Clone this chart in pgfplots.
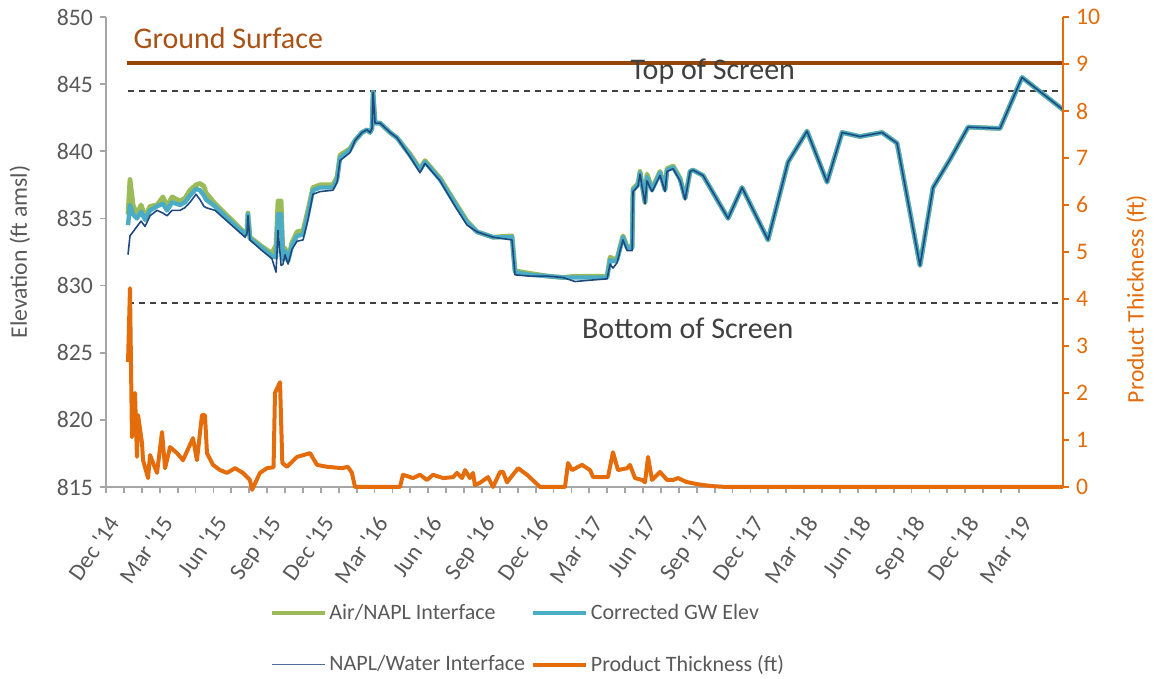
\documentclass[border=0pt]{standalone}
\usepackage{fontspec}
\setmainfont{Carlito}
\usepackage{pgfplots}
\pgfplotsset{compat=1.18}

\definecolor{airgreen}{RGB}{155,187,89}
\definecolor{gwblue}{RGB}{75,172,198}
\definecolor{napldark}{RGB}{31,73,125}
\definecolor{prodorange}{RGB}{228,108,10}
\definecolor{groundbrown}{RGB}{150,70,8}
\definecolor{groundtxt}{RGB}{170,82,22}
\definecolor{txtgray}{RGB}{89,89,89}
\definecolor{axgray}{RGB}{166,166,166}

\newcommand{\tf}{\fontsize{11.85}{14}\selectfont}
\newcommand{\lf}{\fontsize{11}{13}\selectfont}

\pgfplotsset{
  common/.style={
    width=478.5pt, height=235pt, scale only axis,
    xmin=0, xmax=53.46,
    tick align=outside,
    major tick length=3pt, minor tick length=3pt,
    /pgf/number format/assume math mode=true,
    /pgf/number format/1000 sep={},
  },
}

\begin{document}
\begin{tikzpicture}
\useasboundingbox (-53pt,-96pt) rectangle (525pt,243.5pt);

\begin{axis}[
    common,
    axis x line*=bottom, axis y line*=left,
    x axis line style={-, draw=axgray, line width=0.9pt},
    y axis line style={-, draw=axgray, line width=0.9pt},
    tick style={axgray, line width=0.9pt},
    ymin=815, ymax=850,
    ytick={815,820,...,850},
    xtick={0,3,...,51},
    minor x tick num=2,
    xticklabels={Dec \textquotesingle14, Mar \textquotesingle15, Jun \textquotesingle15, Sep \textquotesingle15,
      Dec \textquotesingle15, Mar \textquotesingle16, Jun \textquotesingle16, Sep \textquotesingle16,
      Dec \textquotesingle16, Mar \textquotesingle17, Jun \textquotesingle17, Sep \textquotesingle17,
      Dec \textquotesingle17, Mar \textquotesingle18, Jun \textquotesingle18, Sep \textquotesingle18,
      Dec \textquotesingle18, Mar \textquotesingle19},
    xticklabel shift=6pt,
    x tick label style={rotate=55, anchor=north east, text=txtgray, font=\tf},
    y tick label style={text=txtgray, font=\tf},
    ylabel={Elevation (ft amsl)},
    ylabel style={text=txtgray, font=\tf, at={(axis description cs:-0.09,0.5)}, anchor=center},
]
% ground surface and screen interval
\addplot[groundbrown, line width=2pt] coordinates {(1.17,846.6) (53.46,846.6)};
\addplot[black!75, line width=0.8pt, dash pattern=on 3pt off 2.5pt] coordinates {(1.23,844.5) (53.3,844.5)};
\addplot[black!75, line width=0.8pt, dash pattern=on 3pt off 2.5pt] coordinates {(1.23,828.7) (53.3,828.7)};

% Air/NAPL interface
\addplot[airgreen, line width=2.4pt, line join=round] coordinates {
(1.23,835.3)(1.34,837.9)(1.51,836.0)(1.73,835.3)(1.96,836.0)(2.18,835.1)(2.46,835.9)(2.85,836.0)
(3.18,836.6)(3.41,835.9)(3.69,836.6)(4.13,836.3)(4.41,836.5)(4.69,837.1)(5.03,837.5)(5.25,837.6)
(5.47,837.4)(5.59,836.9)(6.09,836.1)(6.93,835.0)(7.77,833.9)(7.88,834.1)(7.93,835.4)(8.04,833.6)
(8.72,832.9)(9.27,832.4)(9.50,833.0)(9.61,836.3)(9.78,836.3)(9.89,832.1)(10.00,832.8)(10.17,832.0)
(10.39,833.2)(10.67,834.0)(11.01,834.1)(11.28,835.6)(11.56,837.3)(11.96,837.5)(12.68,837.5)(12.91,838.1)
(13.07,839.7)(13.63,840.2)(13.91,840.8)(14.30,841.4)(14.58,841.6)(14.75,841.4)(14.86,841.7)(14.92,844.4)
(15.03,842.1)(15.31,842.1)(15.87,841.4)(16.26,841.0)(16.98,839.8)(17.54,838.7)(17.82,839.3)(18.66,838.0)
(19.50,836.2)(20.17,834.8)(20.73,834.0)(21.62,833.6)(22.68,833.7)(22.85,831.1)(23.69,830.9)(24.69,830.7)
(25.53,830.6)(26.20,830.7)(27.04,830.7)(27.99,830.7)(28.16,832.1)(28.32,832.0)(28.55,832.0)(28.72,832.9)
(28.88,833.7)(29.11,832.9)(29.39,832.9)(29.44,837.2)(29.72,837.6)(29.83,838.5)(30.11,836.2)(30.22,838.3)
(30.50,837.2)(30.95,838.5)(31.23,837.2)(31.34,838.7)(31.68,838.9)(32.07,838.0)(32.35,836.5)(32.63,838.5)
(32.79,838.6)(33.35,838.2)(34.75,835.0)(35.53,837.3)(36.98,833.4)(38.10,839.2)(39.16,841.5)(40.28,837.7)
(41.12,841.4)(42.12,841.1)(43.35,841.4)(44.19,840.6)(45.47,831.5)(46.20,837.3)(47.15,839.4)(48.16,841.8)
(49.94,841.7)(51.17,845.5)(53.46,843.1)
};

% Corrected GW elevation
\addplot[gwblue, line width=2.2pt, line join=round] coordinates {
(1.23,834.5)(1.34,836.0)(1.51,835.3)(1.73,835.0)(1.96,835.5)(2.18,834.9)(2.46,835.6)(2.85,835.9)
(3.18,836.1)(3.41,835.6)(3.69,836.2)(4.13,836.0)(4.41,836.2)(4.69,836.7)(5.03,837.2)(5.25,837.1)
(5.47,836.7)(5.59,836.4)(6.09,835.9)(6.93,834.8)(7.77,833.8)(7.88,834.0)(7.93,835.3)(8.04,833.5)
(8.72,832.8)(9.27,832.2)(9.50,832.1)(9.61,835.3)(9.78,835.3)(9.89,831.9)(10.00,832.6)(10.17,831.8)
(10.39,833.0)(10.67,833.7)(11.01,833.8)(11.28,835.3)(11.56,837.1)(11.96,837.3)(12.68,837.3)(12.91,837.9)
(13.07,839.5)(13.63,840.1)(13.91,840.8)(14.30,841.4)(14.58,841.6)(14.75,841.4)(14.86,841.7)(14.92,844.4)
(15.03,842.1)(15.31,842.1)(15.87,841.4)(16.26,841.0)(16.98,839.7)(17.54,838.6)(17.82,839.2)(18.66,837.9)
(19.50,836.1)(20.17,834.7)(20.73,834.0)(21.62,833.6)(22.68,833.6)(22.85,831.0)(23.69,830.8)(24.69,830.7)
(25.53,830.6)(26.20,830.6)(27.04,830.6)(27.99,830.6)(28.16,831.9)(28.32,831.8)(28.55,831.9)(28.72,832.8)
(28.88,833.6)(29.11,832.8)(29.39,832.8)(29.44,837.1)(29.72,837.5)(29.83,838.4)(30.11,836.2)(30.22,838.1)
(30.50,837.1)(30.95,838.4)(31.23,837.1)(31.34,838.6)(31.68,838.8)(32.07,837.9)(32.35,836.5)(32.63,838.5)
(32.79,838.6)(33.35,838.2)(34.75,835.0)(35.53,837.3)(36.98,833.4)(38.10,839.2)(39.16,841.5)(40.28,837.7)
(41.12,841.4)(42.12,841.1)(43.35,841.4)(44.19,840.6)(45.47,831.5)(46.20,837.3)(47.15,839.4)(48.16,841.8)
(49.94,841.7)(51.17,845.5)(53.46,843.1)
};

% NAPL/Water interface
\addplot[napldark, line width=0.8pt, line join=round] coordinates {
(1.23,832.3)(1.34,833.7)(1.51,834.0)(1.73,834.4)(1.96,834.8)(2.18,834.4)(2.46,835.2)(2.85,835.6)
(3.18,835.4)(3.41,835.2)(3.69,835.6)(4.13,835.6)(4.41,835.8)(4.69,836.2)(5.03,836.8)(5.25,836.4)
(5.47,835.9)(5.59,835.8)(6.09,835.6)(6.93,834.6)(7.77,833.6)(7.88,833.9)(7.93,835.2)(8.04,833.4)
(8.72,832.6)(9.27,832.0)(9.50,831.0)(9.61,834.1)(9.78,831.5)(9.89,831.6)(10.00,832.3)(10.17,831.6)
(10.39,832.7)(10.67,833.3)(11.01,833.4)(11.28,834.9)(11.56,836.8)(11.96,837.0)(12.68,837.1)(12.91,837.7)
(13.07,839.3)(13.63,839.9)(13.91,840.8)(14.30,841.4)(14.58,841.6)(14.75,841.4)(14.86,841.7)(14.92,844.4)
(15.03,842.1)(15.31,842.1)(15.87,841.4)(16.26,841.0)(16.98,839.6)(17.54,838.4)(17.82,839.1)(18.66,837.8)
(19.50,835.9)(20.17,834.5)(20.73,834.0)(21.62,833.6)(22.68,833.4)(22.85,830.8)(23.69,830.7)(24.69,830.7)
(25.53,830.6)(26.20,830.3)(27.04,830.4)(27.99,830.5)(28.16,831.6)(28.32,831.3)(28.55,831.7)(28.72,832.6)
(28.88,833.4)(29.11,832.6)(29.39,832.6)(29.44,837.0)(29.72,837.4)(29.83,838.3)(30.11,836.1)(30.22,837.8)
(30.50,837.0)(30.95,838.2)(31.23,837.0)(31.34,838.5)(31.68,838.7)(32.07,837.8)(32.35,836.4)(32.63,838.5)
(32.79,838.6)(33.35,838.2)(34.75,835.0)(35.53,837.3)(36.98,833.4)(38.10,839.2)(39.16,841.5)(40.28,837.7)
(41.12,841.4)(42.12,841.1)(43.35,841.4)(44.19,840.6)(45.47,831.5)(46.20,837.3)(47.15,839.4)(48.16,841.8)
(49.94,841.7)(51.17,845.5)(53.46,843.1)
};

\node[anchor=west, text=groundtxt, font=\fontsize{15}{17}\selectfont] at (axis cs:1.15,848.4) {Ground Surface};
\node[text=black!75, font=\fontsize{15}{17}\selectfont] at (axis cs:33.9,845.9) {Top of Screen};
\node[text=black!75, font=\fontsize{15}{17}\selectfont] at (axis cs:32.5,826.8) {Bottom of Screen};
\end{axis}

\begin{axis}[
    common,
    axis y line*=right, axis x line=none,
    y axis line style={-, draw=prodorange, line width=1.2pt},
    ytick style={prodorange, line width=1pt},
    ymin=0, ymax=10,
    ytick={0,1,...,10},
    y tick label style={text=prodorange, font=\tf},
    ylabel={Product Thickness (ft)},
    ylabel style={text=prodorange, font=\tf, at={(axis description cs:1.077,0.40)}, anchor=center},
    clip=false,
    legend columns=2,
    legend cell align=left,
    legend style={at={(axis description cs:0.171,-0.243)}, anchor=north west, draw=none, fill=none,
      font=\lf, text=txtgray, inner sep=0pt, row sep=14pt,
      nodes={inner sep=1.2pt},
      /tikz/every even column/.append style={column sep=2pt}},
    legend image code/.code={\draw[#1] (0pt,0pt) -- (26.5pt,0pt);},
]
\addlegendimage{airgreen, line width=2pt}
\addlegendentry{Air/NAPL Interface}
\addlegendimage{gwblue, line width=2pt}
\addlegendentry{Corrected GW Elev}
\addlegendimage{napldark!80!white, line width=0.8pt}
\addlegendentry{NAPL/Water Interface}
\addplot[prodorange, line width=2pt, line join=round] coordinates {
(1.23,2.66)(1.34,4.23)(1.45,1.06)(1.62,2.00)(1.73,0.64)(1.79,1.53)(2.01,0.94)(2.07,0.57)
(2.35,0.19)(2.46,0.68)(2.63,0.51)(2.85,0.30)(3.13,1.17)(3.30,0.40)(3.58,0.85)(3.97,0.72)
(4.30,0.57)(4.86,1.04)(5.08,0.57)(5.36,1.53)(5.53,1.53)(5.64,0.72)(5.98,0.47)(6.37,0.36)
(6.76,0.30)(7.21,0.40)(7.65,0.30)(8.04,0.15)(8.16,-0.06)(8.60,0.30)(8.99,0.40)(9.36,0.42)
(9.44,2.00)(9.72,2.23)(9.85,0.51)(10.11,0.43)(10.67,0.64)(11.40,0.72)(11.79,0.47)(12.35,0.43)
(13.18,0.40)(13.51,0.43)(13.74,0.30)(13.91,0.00)(16.42,0.00)(16.59,0.26)(17.15,0.19)(17.54,0.26)
(17.93,0.15)(18.27,0.26)(18.83,0.19)(19.39,0.21)(19.61,0.30)(19.89,0.19)(20.06,0.36)(20.33,0.19)
(20.50,0.30)(20.61,0.04)(20.89,0.09)(21.34,0.21)(21.62,0.00)(22.01,0.32)(22.18,0.32)(22.40,0.10)
(23.02,0.40)(23.52,0.26)(24.25,0.00)(25.64,0.00)(25.81,0.51)(26.03,0.36)(26.59,0.47)(27.04,0.36)
(27.21,0.21)(28.04,0.21)(28.32,0.74)(28.60,0.36)(29.11,0.40)(29.27,0.47)(29.55,0.19)(29.94,0.15)
(30.11,0.10)(30.28,0.64)(30.50,0.15)(30.95,0.32)(31.34,0.15)(31.68,0.15)(31.96,0.19)(32.40,0.11)
(33.02,0.06)(33.80,0.02)(34.69,0.00)(53.46,0.00)
};
\addlegendentry{Product Thickness (ft)}
\end{axis}
\end{tikzpicture}
\end{document}
